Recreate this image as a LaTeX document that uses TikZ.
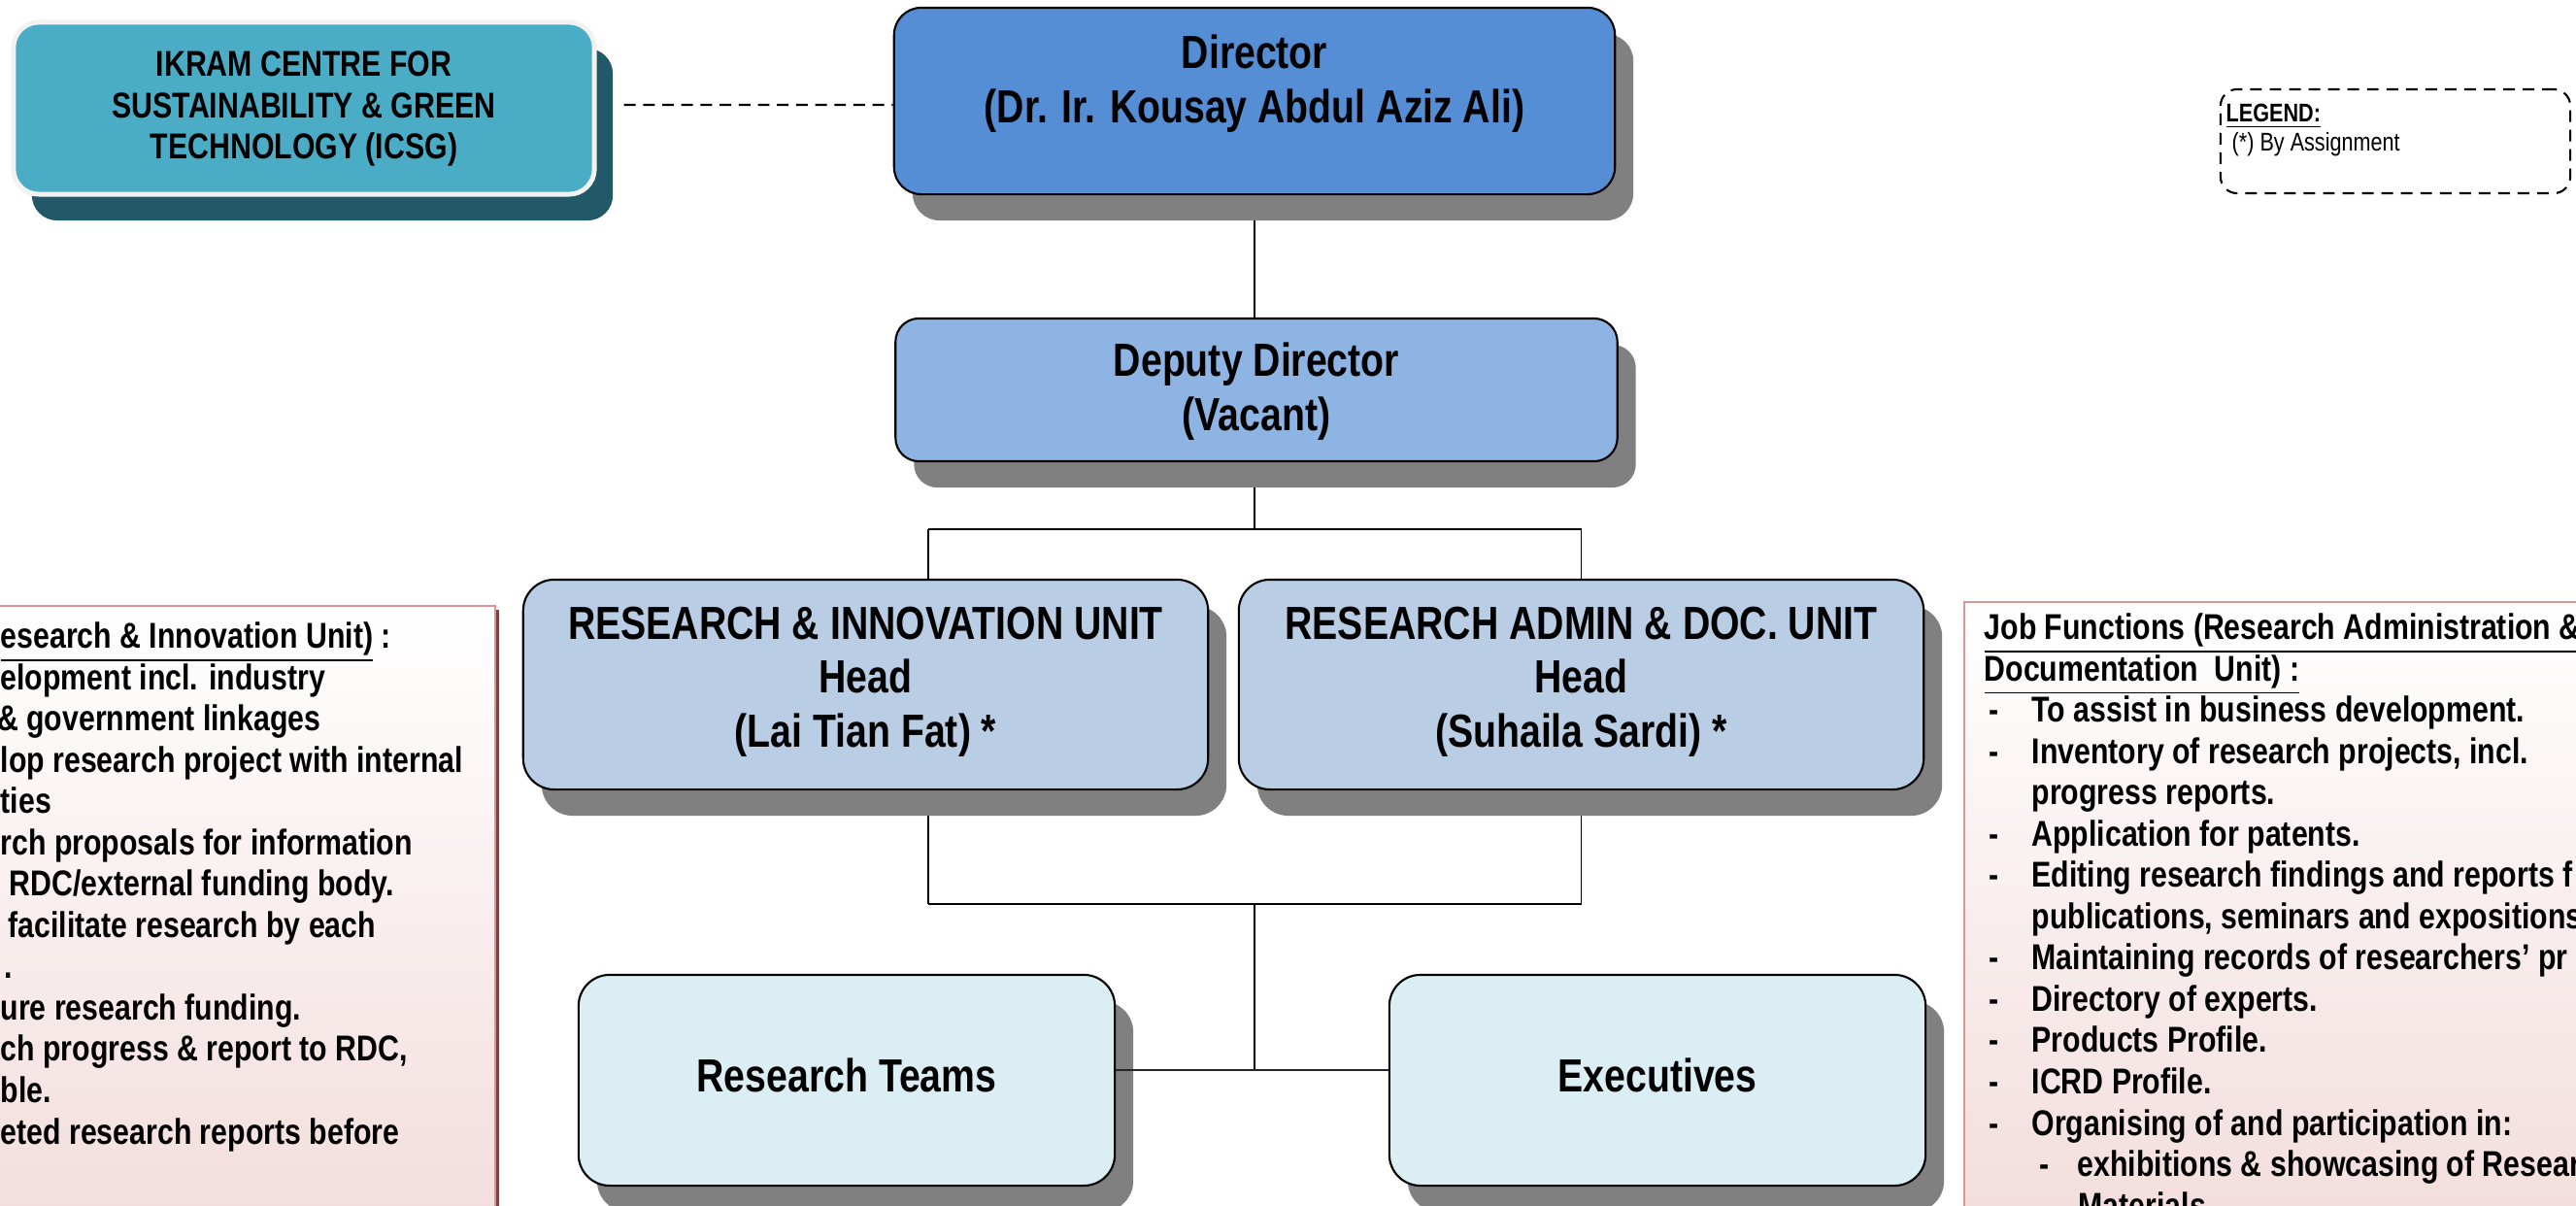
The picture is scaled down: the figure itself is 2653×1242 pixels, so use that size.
\documentclass[tikz,border=0pt]{standalone}
\usepackage{fontspec}
\setmainfont{Liberation Sans}[FakeStretch=0.82]
\usetikzlibrary{shadows,backgrounds}
\definecolor{cdir}{HTML}{558ED5}
\definecolor{cdep}{HTML}{8EB4E3}
\definecolor{cunit}{HTML}{B9CDE5}
\definecolor{cteam}{HTML}{DBEEF4}
\definecolor{cicsg}{HTML}{4BACC6}
\definecolor{cicsgsh}{HTML}{215968}
\definecolor{cicsgbd}{HTML}{F2F2F2}
\definecolor{cshadow}{HTML}{808080}
\definecolor{cpinkbd}{HTML}{D99694}
\definecolor{cpinkbot}{HTML}{F2DCDB}
\definecolor{cpinksh}{HTML}{953735}
\newcommand\jfdash{\hspace*{1.5pt}\makebox[12.4pt][l]{-}}
\newcommand\jfcont{\hspace*{13.9pt}}
\newcommand\jfsub{\hspace*{16.2pt}\makebox[11.1pt][l]{-}}
\begin{document}
\begin{tikzpicture}[x=0.01cm, y=-0.01cm,
  shadowed/.style={drop shadow={shadow xshift=0.19cm, shadow yshift=-0.27cm, fill=#1, opacity=1}},
  orgbox/.style={draw=black, line width=0.6pt, inner sep=0pt},
  orgtext/.style={inner sep=0pt, align=center, font=\fontsize{13.6}{15.8}\selectfont\bfseries},
  conn/.style={draw=black, line width=0.5pt},
  connthick/.style={draw=black!85, line width=0.8pt},
  dashline/.style={draw=black, line width=0.6pt, dash pattern=on 3.4pt off 2.2pt},
  sidetext/.style={anchor=north west, inner sep=0pt, align=left, font=\fontsize{10.5}{12.1}\selectfont\bfseries},
  sidebox/.style={draw=cpinkbd, line width=0.7pt, top color=white, bottom color=cpinkbot, inner sep=0pt,
     drop shadow={shadow xshift=0.04cm, shadow yshift=-0.04cm, fill=cpinksh, opacity=1}}
]
\useasboundingbox (0,0) rectangle (2653,1242);
\clip (0,0) rectangle (2653,1242);
\begin{scope}[on background layer]
\fill[white] (0,0) rectangle (2653,1242);
\end{scope}

% side boxes
\node[sidebox, minimum width=5.4cm, minimum height=6.6cm, anchor=north east] (ribox) at (511,623) {};
\node[sidebox, minimum width=6.6cm, minimum height=6.6cm, anchor=north west] (radbox) at (2022,619) {};

% org boxes
\node[orgbox, draw=cicsgbd, line width=1.4pt, fill=cicsg, rounded corners=0.26cm, shadowed=cicsgsh,
      minimum width=5.98cm, minimum height=1.77cm] (icsg) at (313,111.5) {};
\node[orgbox, fill=cdir, rounded corners=0.28cm, shadowed=cshadow, minimum width=7.42cm, minimum height=1.92cm] (dir) at (1292,104) {};
\node[orgbox, fill=cdep, rounded corners=0.24cm, shadowed=cshadow, minimum width=7.43cm, minimum height=1.47cm] (dep) at (1294,401.5) {};
\node[orgbox, fill=cunit, rounded corners=0.32cm, shadowed=cshadow, minimum width=7.05cm, minimum height=2.16cm] (ri) at (891.5,705) {};
\node[orgbox, fill=cunit, rounded corners=0.32cm, shadowed=cshadow, minimum width=7.05cm, minimum height=2.16cm] (rad) at (1628.5,705) {};
\node[orgbox, fill=cteam, rounded corners=0.32cm, shadowed=cshadow, minimum width=5.52cm, minimum height=2.17cm] (rt) at (872,1112.5) {};
\node[orgbox, fill=cteam, rounded corners=0.32cm, shadowed=cshadow, minimum width=5.52cm, minimum height=2.17cm] (ex) at (1707,1112.5) {};

% texts
\node[orgtext, font=\fontsize{10.5}{12}\selectfont\bfseries] (icsgtxt) at (313,112) {IKRAM CENTRE FOR\\SUSTAINABILITY \& GREEN\\TECHNOLOGY (ICSG)};
\node[orgtext] (dirtxt) at (1292,86) {Director\\(Dr. Ir. Kousay Abdul Aziz Ali)};
\node[orgtext] (deptxt) at (1294,403) {Deputy Director\\(Vacant)};
\node[orgtext] (ritxt) at (891.5,702) {RESEARCH \& INNOVATION UNIT\\Head\\(Lai Tian Fat) *};
\node[orgtext] (radtxt) at (1628.5,702) {RESEARCH ADMIN \& DOC. UNIT\\Head\\(Suhaila Sardi) *};
\node[orgtext] (rttxt) at (872,1107) {Research Teams};
\node[orgtext] (extxt) at (1707,1107) {Executives};

% legend
\node[draw=black, line width=0.6pt, dash pattern=on 3.4pt off 2.3pt, rounded corners=0.17cm,
      minimum width=3.6cm, minimum height=1.07cm, inner sep=0pt] (leg) at (2467,145.5) {};
\node[anchor=north west, inner sep=0pt, align=left, font=\fontsize{7.5}{8.5}\selectfont\bfseries] (legtxt) at (2292,106)
  {\underline{LEGEND:}\\\hspace*{1.7pt}{\mdseries (*) By Assignment}};

% side texts
\node[sidetext] (ritxtl) at (0,640) {%
\underline{esearch \& Innovation Unit)} :\\
elopment incl. industry\\
\hspace*{-1pt}\& government linkages\\
lop research project with internal\\
ties\\
rch proposals for information\\
\hspace*{2.5pt}RDC/external funding body.\\
\hspace*{2.2pt}facilitate research by each\\
\hspace*{1pt}.\\
ure research funding.\\
ch progress \& report to RDC,\\
ble.\\
eted research reports before};

\node[sidetext] (radtxtl) at (2043,631) {%
\underline{Job Functions (Research Administration \&}\\
\underline{Documentation\ \ Unit) :}\\
\jfdash To assist in business development.\\
\jfdash Inventory of research projects, incl.\\
\jfcont progress reports.\\
\jfdash Application for patents.\\
\jfdash Editing research findings and reports f\\
\jfcont publications, seminars and expositions\\
\jfdash Maintaining records of researchers’ pr\\
\jfdash Directory of experts.\\
\jfdash Products Profile.\\
\jfdash ICRD Profile.\\
\jfdash Organising of and participation in:\\
\jfsub exhibitions \& showcasing of Resear\\
\hspace*{27.6pt}Materials};

% connectors
\coordinate (busA) at (956,545);
\coordinate (busB) at (1628.5,545);
\coordinate (busC) at (956,931);
\coordinate (busD) at (1628.5,931);
\coordinate (hub) at (1292,1102);
\begin{scope}[on background layer]
\draw[dashline] ([xshift=0.28cm,yshift=0.035cm]icsg.east) -- ([yshift=-0.04cm]dir.west);
\draw[conn] (dir.south) -- (dir.south |- dep.north);
\draw[conn] (dep.south -| hub) -- (busA -| hub);
\draw[conn] (busA) -- (busB);
\draw[conn] (busA) -- (busA |- ri.north);
\draw[conn] (busB) -- (rad.north);
\draw[conn] (ri.south -| busC) -- (busC);
\draw[conn] (rad.south) -- (busD);
\draw[conn] (busC) -- (busD);
\draw[conn] (hub |- busC) -- (hub);
\end{scope}
\draw[connthick] (rt.east |- hub) -- (ex.west |- hub);
\end{tikzpicture}
\end{document}
